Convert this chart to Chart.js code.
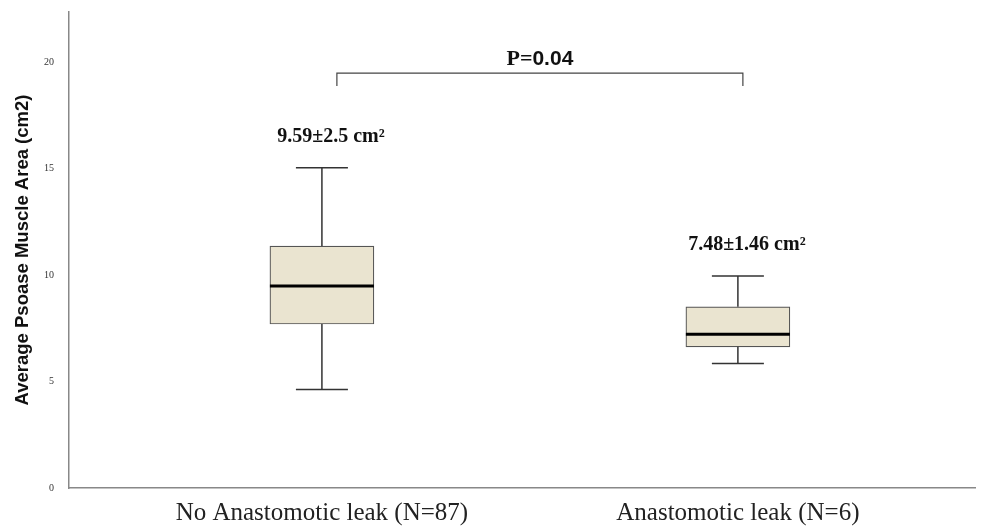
<!DOCTYPE html>
<html><head><meta charset="utf-8">
<script src="https://cdn.jsdelivr.net/npm/chart.js@4/dist/chart.umd.min.js"></script>
<style>html,body{margin:0;padding:0;background:#fff}#wrap{width:991px;height:526px}</style>
</head><body><div id="wrap"><canvas id="c" width="991" height="526"></canvas></div>
<script>
const categories = ['No Anastomotic leak (N=87)', 'Anastomotic leak (N=6)'];
const whiskerLow = [4.63, 5.85];
const q1 = [7.70, 6.63];
const median = [9.48, 7.22];
const q3 = [11.36, 8.51];
const whiskerHigh = [15.04, 9.95];
const meanSdLabels = ['9.59±2.5 cm²', '7.48±1.46 cm²'];
const yTicks = [0, 5, 10, 15, 20];
const pValueLabel = 'P=0.04';
const bracketY = 19.48;
const bracketTickY = 18.87;
const bracketX = [0.036, 1.012];

const SERIF = '"Liberation Serif", "Times New Roman", serif';
const SANS = '"Liberation Sans", Arial, sans-serif';

const boxPlugin = {
  id: 'boxExtras',
  afterDatasetsDraw(chart) {
    const ctx = chart.ctx, xs = chart.scales.x, ys = chart.scales.y;
    ctx.save();
    for (let i = 0; i < categories.length; i++) {
      const px = xs.getPixelForValue(i);
      const meta = chart.getDatasetMeta(0).data[i];
      const bw = meta.width;
      ctx.strokeStyle = '#333';
      ctx.lineWidth = 1.5;
      ctx.beginPath();
      ctx.moveTo(px, ys.getPixelForValue(whiskerHigh[i]));
      ctx.lineTo(px, ys.getPixelForValue(q3[i]));
      ctx.moveTo(px, ys.getPixelForValue(q1[i]));
      ctx.lineTo(px, ys.getPixelForValue(whiskerLow[i]));
      ctx.moveTo(px - bw / 4, ys.getPixelForValue(whiskerHigh[i]));
      ctx.lineTo(px + bw / 4, ys.getPixelForValue(whiskerHigh[i]));
      ctx.moveTo(px - bw / 4, ys.getPixelForValue(whiskerLow[i]));
      ctx.lineTo(px + bw / 4, ys.getPixelForValue(whiskerLow[i]));
      ctx.stroke();
      ctx.strokeStyle = '#000';
      ctx.lineWidth = 3;
      ctx.beginPath();
      ctx.moveTo(px - bw / 2, ys.getPixelForValue(median[i]));
      ctx.lineTo(px + bw / 2, ys.getPixelForValue(median[i]));
      ctx.stroke();
      ctx.fillStyle = '#111';
      ctx.font = 'bold 20px ' + SERIF;
      ctx.textAlign = 'center';
      ctx.textBaseline = 'middle';
      ctx.fillText(meanSdLabels[i], px + 9, ys.getPixelForValue(whiskerHigh[i]) - 31);
    }
    const x1 = xs.getPixelForValue(bracketX[0]), x2 = xs.getPixelForValue(bracketX[1]);
    const yb = ys.getPixelForValue(bracketY), yt = ys.getPixelForValue(bracketTickY);
    ctx.strokeStyle = '#444';
    ctx.lineWidth = 1.2;
    ctx.beginPath();
    ctx.moveTo(x1, yt); ctx.lineTo(x1, yb); ctx.lineTo(x2, yb); ctx.lineTo(x2, yt);
    ctx.stroke();
    const cut = pValueLabel.indexOf('=') + 1;
    const partA = pValueLabel.slice(0, cut), partB = pValueLabel.slice(cut);
    ctx.fillStyle = '#111';
    ctx.textBaseline = 'alphabetic';
    ctx.textAlign = 'left';
    const fA = 'bold 22px ' + SERIF, fB = 'bold 21px ' + SANS;
    ctx.font = fA; const wA = ctx.measureText(partA).width;
    ctx.font = fB; const wB = ctx.measureText(partB).width;
    const startX = (x1 + x2) / 2 - (wA + wB) / 2;
    const base = yb - 8;
    ctx.font = fA; ctx.fillText(partA, startX, base);
    ctx.font = fB; ctx.fillText(partB, startX + wA, base);
    ctx.restore();
  }
};

new Chart(document.getElementById('c'), {
  type: 'bar',
  data: {
    datasets: [{
      data: categories.map((c, i) => ({ x: i, y: [q1[i], q3[i]] })),
      backgroundColor: '#EAE4D0',
      borderColor: '#555',
      borderWidth: 1.2,
      borderSkipped: false,
      barThickness: 104
    }]
  },
  options: {
    responsive: false,
    animation: false,
    devicePixelRatio: 1,
    layout: { padding: { top: 0, right: 16, bottom: 0, left: 12 } },
    plugins: { legend: { display: false }, tooltip: { enabled: false } },
    scales: {
      x: {
        type: 'linear',
        offset: false,
        min: -0.608,
        max: 1.57,
        afterBuildTicks(axis) { axis.ticks = categories.map((c, i) => ({ value: i })); },
        afterFit(axis) { axis.height = 38; },
        ticks: {
          callback: (v) => categories[v] ?? '',
          font: { family: SERIF, size: 25, lineHeight: 1.0 },
          color: '#222',
          padding: 13,
          autoSkip: false,
          maxRotation: 0
        },
        grid: { display: false, drawTicks: false },
        border: { display: true, color: '#888', width: 1.5 }
      },
      y: {
        min: 0,
        max: 22.35,
        afterBuildTicks(axis) { axis.ticks = yTicks.map(v => ({ value: v })); },
        afterFit(axis) { axis.width = 57; axis.paddingTop = 12; },
        ticks: {
          font: { family: SERIF, size: 10 },
          color: '#333',
          padding: 15
        },
        grid: { display: false, drawTicks: false },
        border: { display: true, color: '#888', width: 1.5 },
        title: {
          display: true,
          text: 'Average Psoase Muscle Area (cm2)',
          font: { family: SANS, size: 18.5, weight: 'bold' },
          color: '#111',
          padding: { top: 0, bottom: 10 }
        }
      }
    }
  },
  plugins: [boxPlugin]
});
</script></body></html>
